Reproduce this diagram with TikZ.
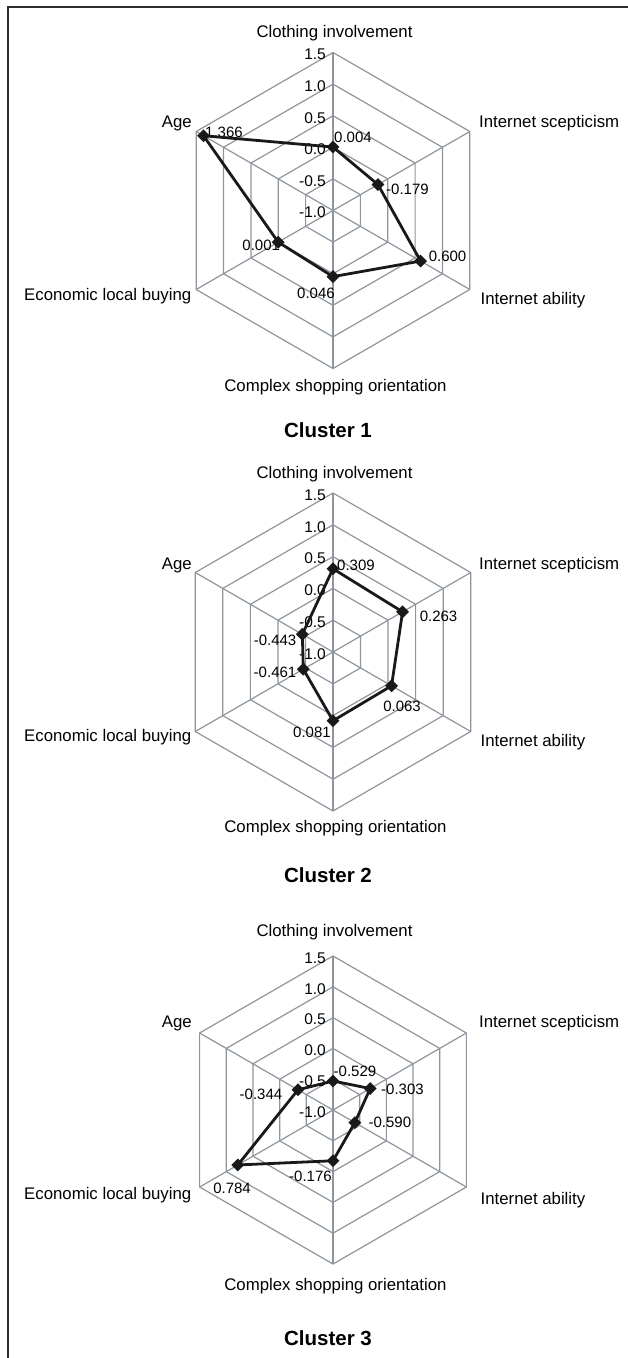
\documentclass[tikz,border=0pt]{standalone}
\usepackage{fontspec}
\setmainfont{Liberation Sans}
\usetikzlibrary{shapes.geometric}
\definecolor{gridgray}{RGB}{142,149,156}
\definecolor{framegray}{RGB}{45,45,45}

\begin{document}
\begin{tikzpicture}[x=1pt, y=-1pt, % y runs downwards, as in the scanned page
	grid/.style={draw=gridgray, line width=1.2pt},
	dataline/.style={draw=black!90, line width=2.8pt, line join=round},
	marker/.style={diamond, fill=black!90, inner sep=0pt, minimum size=13pt},
	axislabel/.style={inner sep=0pt, font=\fontsize{16.8}{19}\selectfont},
	ticklabel/.style={inner sep=0pt, anchor=east, font=\fontsize{15.5}{17}\selectfont},
	vallabel/.style={inner sep=0pt, font=\fontsize{15}{17}\selectfont},
	charttitle/.style={inner sep=0pt, font=\fontsize{20.5}{23}\selectfont\bfseries}]

	\useasboundingbox (0,0) rectangle (628,1358);

	% Frame on the left and on top
	\coordinate (frameA) at (8,1358);
	\coordinate (frameB) at (8,7);
	\coordinate (frameC) at (628,7);
	\draw[framegray, line width=2.2pt] (frameA) -- (frameB) -- (frameC);

	% Macro for the grid, axis names and data points of one radar chart.
	% Usage: \radargrid{prefix}{centre y}{radius}{clothing}{scepticism}{ability}{complex}{economic}{age}
	\newcommand{\radargrid}[9]{
		\begin{scope}[shift={(333,#2)}]
			\foreach \k in {1,...,5}
				\draw[grid] (-90:{#3*\k/5}) -- (-30:{#3*\k/5}) -- (30:{#3*\k/5}) -- (90:{#3*\k/5}) -- (150:{#3*\k/5}) -- (210:{#3*\k/5}) -- cycle;
			\foreach \a in {-90,-30,30,90,150,210}
				\draw[grid] (0,0) -- (\a:#3);
			\foreach \lbl [count=\i from 0] in {-1.0,-0.5,0.0,0.5,1.0,1.5}
				\node[ticklabel, xshift=-7pt, yshift=-2pt] (#1t\i) at (-90:{#3*\i/5}) {\lbl};
			% axis names
			\node[axislabel] (#1nci) at (1.5,-177.5) {Clothing involvement};
			\node[axislabel, anchor=west] (#1nsc) at (146,-87) {Internet scepticism};
			\node[axislabel, anchor=west] (#1nab) at (147.5,90) {Internet ability};
			\node[axislabel] (#1nco) at (2.5,176.5) {Complex shopping orientation};
			\node[axislabel, anchor=east] (#1nec) at (-141.5,85.5) {Economic local buying};
			\node[axislabel, anchor=east] (#1nag) at (-141,-87) {Age};
			% data points, scale from -1.0 (centre) to 1.5
			\coordinate (#1ci) at (-90:{(#4+1)*#3/2.5});
			\coordinate (#1sc) at (-30:{(#5+1)*#3/2.5});
			\coordinate (#1ab) at (30:{(#6+1)*#3/2.5});
			\coordinate (#1co) at (90:{(#7+1)*#3/2.5});
			\coordinate (#1ec) at (150:{(#8+1)*#3/2.5});
			\coordinate (#1ag) at (210:{(#9+1)*#3/2.5});
		\end{scope}
	}

	% Macro for the polygon and its diamonds.
	% Usage: \radarline{prefix}
	\newcommand{\radarline}[1]{
		\draw[dataline] (#1ci) -- (#1sc) -- (#1ab) -- (#1co) -- (#1ec) -- (#1ag) -- cycle;
		\foreach \p in {ci,sc,ab,co,ec,ag}
			\node[marker] (#1m\p) at (#1\p) {};
	}

	% Cluster 1
	\radargrid{c1}{210.5}{158}{0.004}{-0.179}{0.600}{0.046}{0.001}{1.366}
	\node[vallabel] (c1vci) at ([shift={(20,-10)}]c1ci) {0.004};
	\node[vallabel] (c1vsc) at ([shift={(29.5,4.4)}]c1sc) {-0.179};
	\node[vallabel] (c1vab) at ([shift={(27,-5)}]c1ab) {0.600};
	\node[vallabel] (c1vco) at ([shift={(-17,16.4)}]c1co) {0.046};
	\node[vallabel] (c1vec) at ([shift={(-17,3)}]c1ec) {0.001};
	\node[vallabel] (c1vag) at ([shift={(20.5,-3.7)}]c1ag) {1.366};
	\radarline{c1}
	\node[charttitle] (title1) at (328,430) {Cluster 1};

	% Cluster 2
	\radargrid{c2}{652}{159}{0.309}{0.263}{0.063}{0.081}{-0.461}{-0.443}
	\node[vallabel] (c2vci) at ([shift={(23,-3.7)}]c2ci) {0.309};
	\node[vallabel] (c2vsc) at ([shift={(36,4.2)}]c2sc) {0.263};
	\node[vallabel] (c2vab) at ([shift={(10.5,21)}]c2ab) {0.063};
	\node[vallabel] (c2vco) at ([shift={(-21,12)}]c2co) {0.081};
	\node[vallabel] (c2vec) at ([shift={(-28.3,2.7)}]c2ec) {-0.461};
	\node[vallabel] (c2vag) at ([shift={(-27.3,5.7)}]c2ag) {-0.443};
	\radarline{c2}
	\node[charttitle] (title2) at (328,875) {Cluster 2};

	% Cluster 3
	\radargrid{c3}{1110}{154}{-0.529}{-0.303}{-0.590}{-0.176}{0.784}{-0.344}
	\node[vallabel] (c3vci) at ([shift={(22,-9.3)}]c3ci) {-0.529};
	\node[vallabel] (c3vsc) at ([shift={(32.3,0.5)}]c3sc) {-0.303};
	\node[vallabel] (c3vab) at ([shift={(35,0)}]c3ab) {-0.590};
	\node[vallabel] (c3vco) at ([shift={(-22.5,16)}]c3co) {-0.176};
	\node[vallabel] (c3vec) at ([shift={(-5.8,23)}]c3ec) {0.784};
	\node[vallabel] (c3vag) at ([shift={(-37,5)}]c3ag) {-0.344};
	\radarline{c3}
	\node[charttitle] (title3) at (328,1338) {Cluster 3};
\end{tikzpicture}
\end{document}
